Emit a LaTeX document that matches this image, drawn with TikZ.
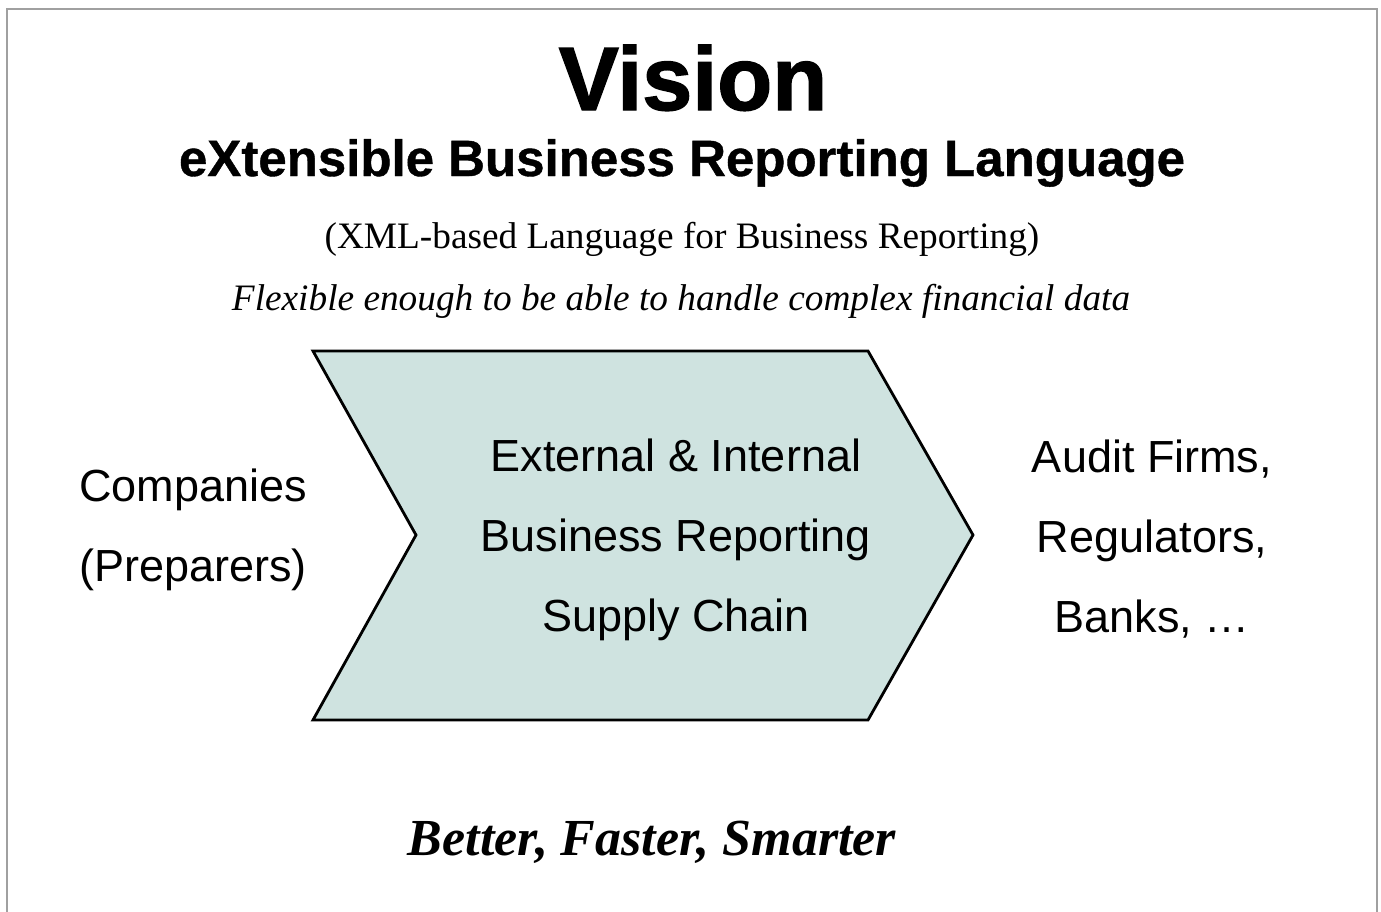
\documentclass[tikz,border=0pt]{standalone}
\usepackage{fontspec}
\setmainfont{Liberation Serif}
\setsansfont{Liberation Sans}
\newfontfamily\heavysans{Liberation Sans}[BoldFeatures={FakeBold=1.6}]
\newfontfamily\boldsans{Liberation Sans}[BoldFeatures={FakeBold=0.8}]
\usepackage{xcolor}
\usepackage{tikz}
\usetikzlibrary{positioning}
\definecolor{chevronfill}{RGB}{207,227,224}
\definecolor{framegray}{RGB}{160,160,160}
\tikzset{
	heading/.style={font=\heavysans\bfseries\fontsize{90}{90}\selectfont, inner sep=0pt, anchor=base},
	subheading/.style={font=\boldsans\bfseries\fontsize{51}{51}\selectfont, inner sep=0pt, anchor=base},
	serifline/.style={font=\rmfamily\fontsize{37.3}{37.3}\selectfont, inner sep=0pt, anchor=base},
	party/.style={font=\sffamily\fontsize{45}{80}\selectfont, align=center, inner sep=0pt},
	chevron/.style={draw=black, line width=2.8pt, fill=chevronfill, line join=miter},
	motto/.style={font=\rmfamily\bfseries\itshape\fontsize{52}{52}\selectfont, inner sep=0pt, anchor=base}
}
\begin{document}
\begin{tikzpicture}[x=1pt, y=-1pt]
	\useasboundingbox (0,0) rectangle (1381,911);
	% frame, open at the bottom
	\draw[framegray, line width=2pt] (7,915) -- (7,9) -- (1377,9) -- (1377,915);
	
	% title block
	\node[heading] (vision) at (693,110) {Vision};
	\node[subheading] (xbrl) at (682,176) {eXtensible Business Reporting Language};
	\node[serifline] (xml) at (682,248) {(XML-based Language for Business Reporting)};
	\node[serifline, font=\rmfamily\itshape\fontsize{37.3}{37.3}\selectfont] (flexible) at (681,310) {Flexible enough to be able to handle complex financial data};
	
	% chevron corners
	\coordinate (chev-tl) at (313,351);
	\coordinate (chev-tr) at (868,351);
	\coordinate (chev-tip) at (973,535);
	\coordinate (chev-br) at (868,720);
	\coordinate (chev-bl) at (313,720);
	\coordinate (chev-notch) at (416,535);
	\draw[chevron] (chev-tl) -- (chev-tr) -- (chev-tip) -- (chev-br) -- (chev-bl) -- (chev-notch) -- cycle;
	
	\node[party] (supply) at (676,540) {External \& Internal\\Business Reporting\\Supply Chain};
	\node[party] (preparers) at (193,530) {Companies\\(Preparers)};
	\node[party] (users) at (1152,539) {Audit Firms,\\Regulators,\\Banks, \dots};
	
	\node[motto] (motto) at (652,855) {Better, Faster, Smarter};
\end{tikzpicture}
\end{document}
